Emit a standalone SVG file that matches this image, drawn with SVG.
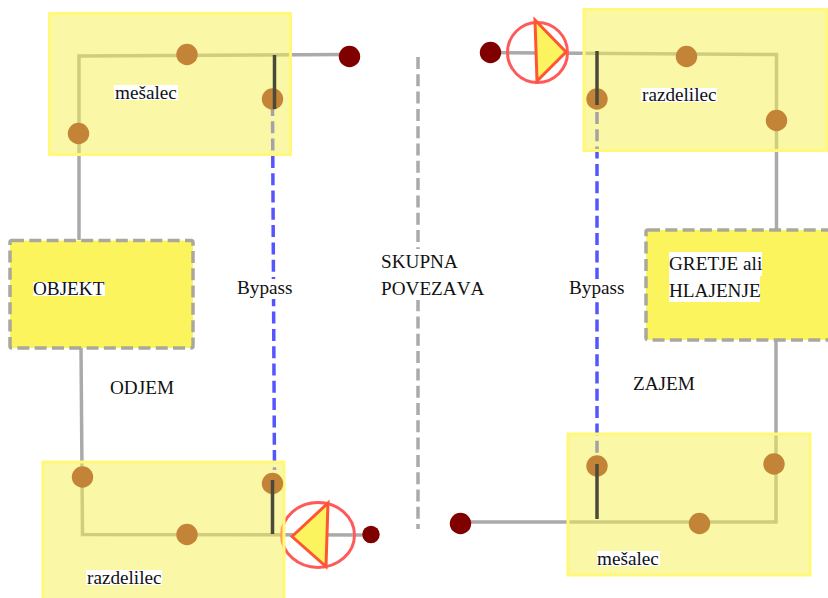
<svg xmlns="http://www.w3.org/2000/svg" width="828" height="598" viewBox="0 0 828 598">
<style>
.pipe{fill:none;stroke:#aaaaaa;stroke-width:3.500}
.byp{fill:none;stroke:#5555ff;stroke-width:3.500;stroke-dasharray:12 5.300}
.mid{fill:none;stroke:#aaaaaa;stroke-width:3.500;stroke-dasharray:12 5.300}
.dark{fill:none;stroke:#4a4a3a;stroke-width:3.500}
.box{fill:#f6f04e;fill-opacity:.5;stroke:#fff878;stroke-width:3}
.obj{fill:#fcf45c;stroke:#aaa89a;stroke-width:3.500;stroke-dasharray:12 5.300}
.dot{fill:#c48438}
.end{fill:#800000}
.ring{fill:none;stroke:#ff5a5a;stroke-width:3}
.tri{fill:#fcf45f;stroke:#ff5533;stroke-width:3}
.bg{fill:#fff}
text{font-family:"Liberation Serif","Times New Roman",serif;font-size:19.200px;fill:#111;font-kerning:none}
</style>
<g id="connectors">
<path class="pipe" d="M79 240V56L349 54.500"/>
<path class="pipe" d="M81 348L82.500 534.500L371 535"/>
<path class="pipe" d="M490 52.500L776.500 54.500V229"/>
<path class="pipe" d="M776 341V522L460 522"/>
<path class="byp" d="M272.500 104L274.500 470"/>
<path class="byp" d="M597 112V470"/>
<path class="mid" d="M418 57V529"/>
</g>
<g id="pump-bottom-ring">
<ellipse class="ring" cx="318" cy="535" rx="36.500" ry="32.500"/>
</g>
<g id="node-mesalec-top">
<rect class="box" x="49.500" y="13.500" width="241" height="141"/>
<rect class="bg" x="114" y="85" width="64" height="15"/>
<text x="115" y="99">mešalec</text>
<circle class="dot" cx="187" cy="54.500" r="10.700"/>
<circle class="dot" cx="272.500" cy="99" r="10.700"/>
<circle class="dot" cx="78.500" cy="133.500" r="10.700"/>
<path class="dark" d="M274.500 55V109"/>
</g>
<g id="node-razdelilec-top">
<rect class="box" x="584" y="9.500" width="243" height="141"/>
<rect class="bg" x="641" y="88" width="76" height="14"/>
<text x="642" y="101">razdelilec</text>
<circle class="dot" cx="686.500" cy="56.500" r="10.700"/>
<circle class="dot" cx="597" cy="99" r="10.700"/>
<circle class="dot" cx="776.500" cy="120.500" r="10.700"/>
<path class="dark" d="M597 51V105"/>
</g>
<g id="node-razdelilec-bottom">
<rect class="box" x="43" y="462" width="241" height="140"/>
<rect class="bg" x="86" y="570" width="76" height="15"/>
<text x="87" y="584">razdelilec</text>
<circle class="dot" cx="82.500" cy="477" r="10.700"/>
<circle class="dot" cx="272.500" cy="483.500" r="10.700"/>
<circle class="dot" cx="187" cy="534.500" r="10.700"/>
<path class="dark" d="M272.500 480V534"/>
</g>
<g id="node-mesalec-bottom">
<rect class="box" x="568" y="434" width="242" height="141"/>
<rect class="bg" x="597" y="551" width="63" height="15"/>
<text x="597" y="565">mešalec</text>
<circle class="dot" cx="597" cy="466" r="10.700"/>
<circle class="dot" cx="774" cy="464" r="10.700"/>
<circle class="dot" cx="699.500" cy="523.500" r="10.700"/>
<path class="dark" d="M597 464V519"/>
</g>
<g id="node-objekt">
<rect class="obj" x="10" y="240.500" width="183" height="107.500" rx="2"/>
<rect class="bg" x="33" y="282" width="72" height="14"/>
<text x="33" y="295">OBJEKT</text>
</g>
<g id="node-gretje">
<rect class="obj" x="646" y="230" width="190" height="110" rx="2"/>
<rect class="bg" x="669" y="252" width="93" height="24"/>
<rect class="bg" x="669" y="276" width="91" height="26"/>
<text x="669" y="270">GRETJE ali</text>
<text x="669" y="297">HLAJENJE</text>
</g>
<g id="pump-top">
<circle class="ring" cx="537.500" cy="52.500" r="30"/>
<path class="tri" d="M535 20L566 52L537 81Z"/>
</g>
<g id="pump-bottom">
<path class="tri" d="M292 536.500L328 503L326 566.500Z"/>
</g>
<g id="terminals">
<circle class="end" cx="349.500" cy="56.500" r="10.700"/>
<circle class="end" cx="490.500" cy="52.500" r="10.700"/>
<circle class="end" cx="371" cy="534.500" r="8.700"/>
<circle class="end" cx="460.500" cy="523.500" r="10.700"/>
</g>
<g id="labels">
<rect class="bg" x="237" y="279" width="55" height="20"/>
<text x="237" y="294">Bypass</text>
<rect class="bg" x="569" y="279" width="55" height="20"/>
<text x="569" y="294">Bypass</text>
<rect class="bg" x="381" y="249" width="104" height="51"/>
<text x="381" y="268">SKUPNA</text>
<text x="381" y="295">POVEZAVA</text>
<text x="110" y="394">ODJEM</text>
<text x="633" y="390">ZAJEM</text>
</g>
</svg>
